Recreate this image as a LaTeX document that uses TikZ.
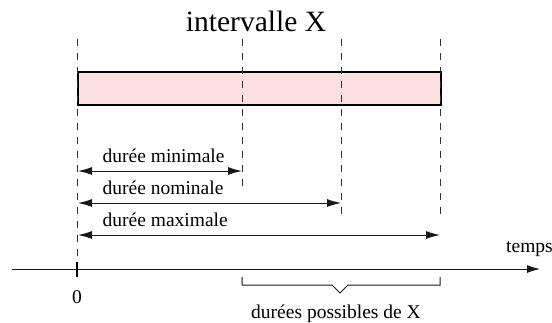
\documentclass[tikz,border=0pt]{standalone}
\usepackage{fontspec}
\setmainfont{Liberation Serif}
\usetikzlibrary{arrows.meta}
\definecolor{intfill}{RGB}{255,224,224}
\begin{document}
\begin{tikzpicture}[x=1pt,y=-1pt,
  lbl/.style={font=\fontsize{19.5}{23}\selectfont, inner sep=0pt},
  ttl/.style={font=\fontsize{29.5}{34}\selectfont, inner sep=0pt},
  guide/.style={draw=black!80, line width=1pt, dash pattern=on 7pt off 7pt},
  dur/.style={line width=1pt, draw=black!90,
    {Latex[length=14pt,width=8pt]}-{Latex[length=14pt,width=8pt]}},
  axisline/.style={line width=1pt, draw=black!90, -{Latex[length=13pt,width=8pt]}},
  bracket/.style={line width=1pt, draw=black!90},
]
\useasboundingbox (0,0) rectangle (552,322);

% interval box
\node[draw, fill=intfill, line width=1.5pt, minimum width=363pt, minimum height=33pt,
      anchor=north west, inner sep=0pt] (interval) at (77,71) {};

% guide coordinates
\coordinate (g0t) at (77,39);  \coordinate (g0b) at (77,262);
\coordinate (g1t) at (242,39); \coordinate (g1b) at (242,187);
\coordinate (g2t) at (341,39); \coordinate (g2b) at (341,219);
\coordinate (g3t) at (440,39); \coordinate (g3b) at (440,219);
\draw[guide] (g0t) -- (g0b);
\draw[guide] (g1t) -- (g1b);
\draw[guide] (g2t) -- (g2b);
\draw[guide] (g3t) -- (g3b);

% title
\node[ttl, anchor=base] (title) at (256,31) {intervalle X};

% durations
\coordinate (minL) at (78,171);  \coordinate (minR) at (242,171);
\coordinate (nomL) at (78,203);  \coordinate (nomR) at (341,203);
\coordinate (maxL) at (78,235);  \coordinate (maxR) at (440,235);
\draw[dur] (minL) -- (minR);
\draw[dur] (nomL) -- (nomR);
\draw[dur] (maxL) -- (maxR);
\node[lbl, anchor=base west] (lmin) at (102.5,162) {durée minimale};
\node[lbl, anchor=base west] (lnom) at (102.5,194) {durée nominale};
\node[lbl, anchor=base west] (lmax) at (102.5,226) {durée maximale};

% time axis
\coordinate (axS) at (12,269); \coordinate (axE) at (540,269);
\draw[axisline] (axS) -- (axE);
\node[lbl, anchor=base west] (temps) at (506,252) {temps};
\coordinate (tickT) at (77,262); \coordinate (tickB) at (77,277);
\draw[line width=2pt, draw=black] (tickT) -- (tickB);
\node[lbl, anchor=base] (zero) at (77,303) {0};

% bracket of possible durations
\coordinate (bL) at (242,277); \coordinate (bR) at (440,277);
\coordinate (bP) at (340,293);
\draw[bracket] (bL) -- (242,285) -- (332,285) -- (bP) -- (348,285) -- (440,285) -- (bR);
\node[lbl, anchor=base] (poss) at (336,318) {durées possibles de X};
\end{tikzpicture}
\end{document}
